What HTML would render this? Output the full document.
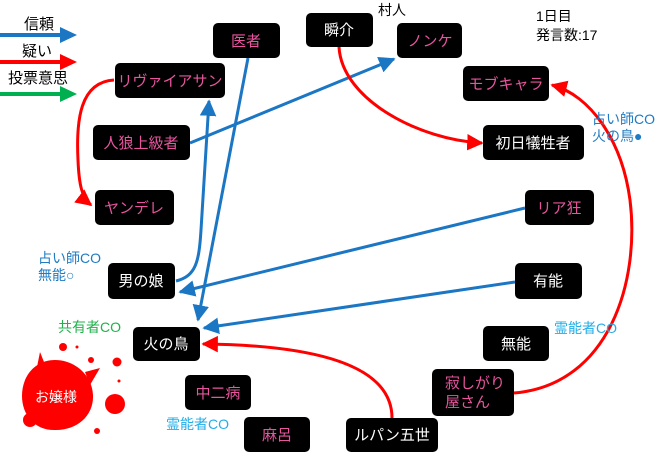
<!DOCTYPE html>
<html><head><meta charset="utf-8"><style>
html,body{margin:0;padding:0;background:#fff;}
svg{display:block;font-family:"Liberation Sans","Noto Sans CJK JP",sans-serif;}
</style></head><body>
<svg width="660" height="454" viewBox="0 0 660 454" xmlns="http://www.w3.org/2000/svg">
<defs>
<marker id="bh" viewBox="0 0 10 10" refX="9" refY="5" markerWidth="5.5" markerHeight="5.5" orient="auto" markerUnits="strokeWidth"><path d="M0,0 L10,5 L0,10 z" fill="#1b76c4"/></marker>
<marker id="rh" viewBox="0 0 10 10" refX="9" refY="5" markerWidth="5.5" markerHeight="5.5" orient="auto" markerUnits="strokeWidth"><path d="M0,0 L10,5 L0,10 z" fill="#ff0000"/></marker>
</defs>
<g font-size="15" fill="#000">
<text x="24" y="29">信頼</text>
<text x="22" y="56">疑い</text>
<text x="8" y="83">投票意思</text>
</g>
<line x1="0" y1="35" x2="62" y2="35" stroke="#1b76c4" stroke-width="4"/><path d="M60,27 L77,35 L60,43 z" fill="#1b76c4"/>
<line x1="0" y1="62" x2="62" y2="62" stroke="#ff0000" stroke-width="4"/><path d="M60,54 L77,62 L60,70 z" fill="#ff0000"/>
<line x1="0" y1="94" x2="62" y2="94" stroke="#00b050" stroke-width="4"/><path d="M60,86 L77,94 L60,102 z" fill="#00b050"/>

<g fill="none" stroke-width="3">
<path d="M190,143 L394,59" stroke="#1b76c4" marker-end="url(#bh)"/>
<path d="M248,58 L198,320" stroke="#1b76c4" marker-end="url(#bh)"/>
<path d="M176,281 C196,276 199,262 201,230 L209,101" stroke="#1b76c4" marker-end="url(#bh)"/>
<path d="M525,208 L180,292" stroke="#1b76c4" marker-end="url(#bh)"/>
<path d="M515,282 L204,328" stroke="#1b76c4" marker-end="url(#bh)"/>
<path d="M114,80 C80,82 76,120 78,160 C79,185 82,198 91,205" stroke="#ff0000" marker-end="url(#rh)"/>
<path d="M339,47 C342,100 420,140 482,143" stroke="#ff0000" marker-end="url(#rh)"/>
<path d="M514,393 C610,385 640,280 630,200 C622,140 590,95 552,85" stroke="#ff0000" marker-end="url(#rh)"/>
<path d="M392,418 C392,360 300,345 203,344" stroke="#ff0000" marker-end="url(#rh)"/>
</g>

<g fill="#000">
<rect x="213" y="23" width="67" height="35" rx="5"/>
<rect x="306" y="13" width="67" height="34" rx="5"/>
<rect x="397" y="23" width="65" height="35" rx="5"/>
<rect x="115" y="63" width="110" height="35" rx="5"/>
<rect x="463" y="66" width="86" height="35" rx="5"/>
<rect x="93" y="125" width="97" height="35" rx="5"/>
<rect x="483" y="125" width="101" height="35" rx="5"/>
<rect x="95" y="190" width="79" height="35" rx="5"/>
<rect x="525" y="190" width="69" height="35" rx="5"/>
<rect x="108" y="263" width="67" height="36" rx="5"/>
<rect x="515" y="263" width="67" height="36" rx="5"/>
<rect x="133" y="327" width="67" height="34" rx="5"/>
<rect x="483" y="326" width="66" height="35" rx="5"/>
<rect x="185" y="375" width="66" height="35" rx="5"/>
<rect x="432" y="369" width="82" height="47" rx="5"/>
<rect x="244" y="417" width="66" height="35" rx="5"/>
<rect x="346" y="418" width="92" height="34" rx="5"/>
</g>
<g font-size="15" text-anchor="middle">
<g fill="#e8559e">
<text x="246" y="46">医者</text>
<text x="430" y="46">ノンケ</text>
<text x="170" y="86">リヴァイアサン</text>
<text x="506" y="89">モブキャラ</text>
<text x="141" y="148">人狼上級者</text>
<text x="134" y="213">ヤンデレ</text>
<text x="559" y="213">リア狂</text>
<text x="218" y="398">中二病</text>
<text x="277" y="440">麻呂</text>
<text x="445" y="388" text-anchor="start">寂しがり</text>
<text x="445" y="407" text-anchor="start">屋さん</text>
</g>
<g fill="#fff">
<text x="339" y="35">瞬介</text>
<text x="533" y="148">初日犠牲者</text>
<text x="141" y="286">男の娘</text>
<text x="548" y="286">有能</text>
<text x="166" y="349">火の鳥</text>
<text x="516" y="349">無能</text>
<text x="392" y="440">ルパン五世</text>
</g>
</g>

<g font-size="14">
<text x="378" y="15" fill="#000">村人</text>
<text x="536" y="21" fill="#000">1日目</text>
<text x="536" y="40" fill="#000">発言数:17</text>
<text x="592" y="124" fill="#1e7bc4">占い師CO</text>
<text x="592" y="141" fill="#1e7bc4">火の鳥●</text>
<text x="38" y="263" fill="#1e7bc4">占い師CO</text>
<text x="38" y="280" fill="#1e7bc4">無能○</text>
<text x="58" y="332" fill="#22b04c">共有者CO</text>
<text x="166" y="429" fill="#21aee8">霊能者CO</text>
<text x="554" y="333" fill="#21aee8">霊能者CO</text>
</g>

<g fill="#ff0000">
<path d="M55,360 C75,360 92,375 93,395 C94,415 78,430 56,430 C35,431 22,415 22,396 C22,375 36,360 55,360 z"/>
<path d="M40,352 L48,372 L36,372 z"/>
<path d="M85,372 L100,368 L90,385 z"/>
<circle cx="63" cy="347" r="4"/><circle cx="77" cy="347" r="1.5"/>
<circle cx="91" cy="360" r="3"/><circle cx="117" cy="362" r="4.5"/>
<circle cx="119" cy="381" r="1.5"/><circle cx="115" cy="404" r="10"/>
<circle cx="97" cy="431" r="3"/><circle cx="30" cy="420" r="7"/>
</g>
<text x="56" y="402" font-size="14" fill="#fff" text-anchor="middle">お嬢様</text>
</svg>
</body></html>
